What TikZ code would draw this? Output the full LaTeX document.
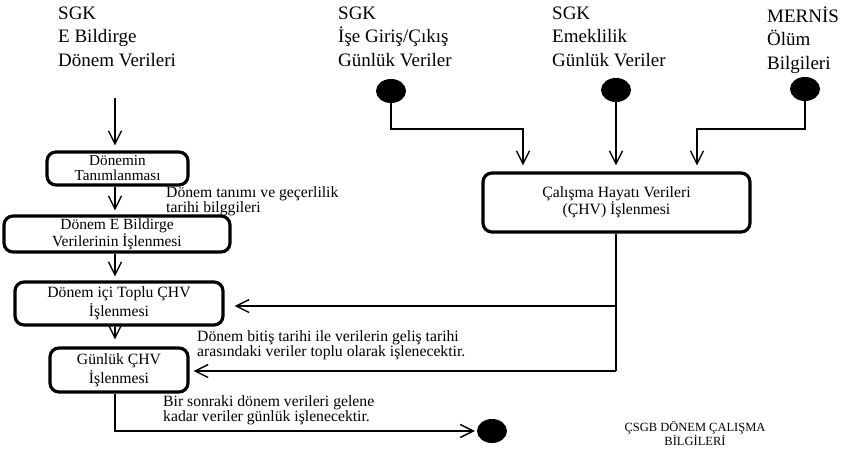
\documentclass[tikz,border=0pt]{standalone}
\usepackage{fontspec}
\setmainfont{Liberation Serif}
\usetikzlibrary{arrows.meta,shapes.geometric}
\newcommand\myfs[2]{\fontsize{#1}{#2}\selectfont}
\tikzset{
  box/.style={draw, line width=3.2pt, rounded corners=9pt, inner sep=0pt, align=center},
  conn/.style={line width=1.5pt},
  arr/.style={conn, -{Straight Barb[length=13pt,width=13pt,line width=1.4pt]}},
  dot/.style={ellipse, fill=black, draw=none, minimum width=30pt, minimum height=24pt, inner sep=0pt},
  src/.style={anchor=north west, inner sep=0pt, align=left, font=\myfs{19}{23.5}},
  note/.style={anchor=north west, inner sep=0pt, align=left, font=\myfs{15.7}{12}},
}
\begin{document}
\begin{tikzpicture}[x=1pt,y=-1pt]
\useasboundingbox (0,0) rectangle (853,451);
% source labels
\node[src] (l1) at (58,6.5) {SGK\\E Bildirge\\Dönem Verileri};
\node[src] (l2) at (338,6.5) {SGK\\İşe Giriş/Çıkış\\Günlük Veriler};
\node[src] (l3) at (552,6.5) {SGK\\Emeklilik\\Günlük Veriler};
\node[src] (l4) at (767,6.5) {MERNİS\\Ölüm\\Bilgileri};
% dots
\node[dot] (c1) at (391,91) {};
\node[dot] (c2) at (616,90) {};
\node[dot] (c3) at (805,89) {};
\node[dot] (ce) at (492,431) {};
% boxes
\node[box, minimum width=141pt, minimum height=33pt, font=\myfs{15.2}{15}] (b1) at (117.5,168.5) {Dönemin\\Tanımlanması};
\node[box, minimum width=226pt, minimum height=36pt, font=\myfs{15.5}{15}] (b2) at (117,234) {Dönem E Bildirge\\Verilerinin İşlenmesi};
\node[box, minimum width=208pt, minimum height=43pt, font=\myfs{15.7}{19}] (b3) at (119,303.5) {Dönem içi Toplu ÇHV\\İşlenmesi};
\node[box, minimum width=138pt, minimum height=44pt, font=\myfs{15.7}{19}] (b4) at (119,370) {Günlük ÇHV\\İşlenmesi};
\node[box, minimum width=267pt, minimum height=59pt, font=\myfs{15.7}{15}] (rb) at (616.5,202.5) {Çalışma Hayatı Verileri\\(ÇHV) İşlenmesi};
% notes
\node[note] (n1) at (166,186) {Dönem tanımı ve geçerlilik\\tarihi bilggileri};
\node[note] (n2) at (197,330) {Dönem bitiş tarihi ile verilerin geliş tarihi\\arasındaki veriler toplu olarak işlenecektir.};
\node[note] (n3) at (163,395) {Bir sonraki dönem verileri gelene\\kadar veriler günlük işlenecektir.};
\node[anchor=north, inner sep=0pt, align=center, font=\myfs{12.5}{11}] (n4) at (695,421) {ÇSGB DÖNEM ÇALIŞMA\\BİLGİLERİ};
% left column
\coordinate (s0) at (115,98);
\draw[arr, shorten >=5pt] (s0) -- (b1.north -| s0);
\draw[arr, shorten >=4pt] (b1.south -| s0) -- (b2.north -| s0);
\draw[arr, shorten >=4pt] (b2.south -| s0) -- (b3.north -| s0);
\draw[arr, shorten >=7pt] (b3.south -| s0) -- (b4.north -| s0);
\draw[arr, shorten >=2pt] (b4.south -| s0) |- (ce);
% sources to right box
\coordinate (j1) at (523,129);
\coordinate (j3) at (697,129);
\draw[arr, shorten >=6pt] (c1) |- (j1) -- (j1 |- rb.north);
\draw[arr, shorten >=6pt] (c2) -- (c2 |- rb.north);
\draw[arr, shorten >=6pt] (c3) |- (j3) -- (j3 |- rb.north);
% right box outputs
\coordinate (k3) at (616,306);
\coordinate (k4) at (616,371);
\draw[conn] (rb.south -| k3) -- (k4);
\draw[arr, shorten >=10pt] (k3) -- (k3 -| b3.east);
\draw[arr, shorten >=4pt] (k4) -- (k4 -| b4.east);
\end{tikzpicture}
\end{document}
